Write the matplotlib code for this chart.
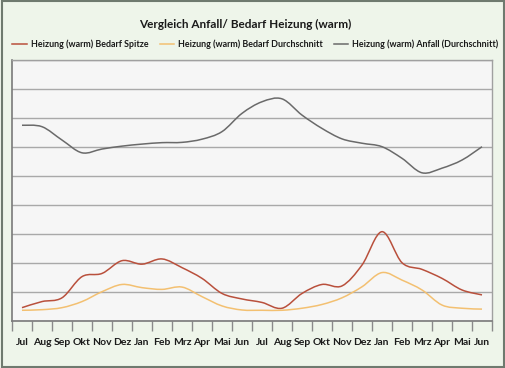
import matplotlib
matplotlib.use("Agg")
import matplotlib.pyplot as plt
from matplotlib.patches import Rectangle, PathPatch
from matplotlib.path import Path
from matplotlib.lines import Line2D
import numpy as np

# Monthly values over two years (Jul - Jun, Jul - Jun)
months = ["Jul", "Aug", "Sep", "Okt", "Nov", "Dez", "Jan", "Feb", "Mrz", "Apr", "Mai", "Jun",
          "Jul", "Aug", "Sep", "Okt", "Nov", "Dez", "Jan", "Feb", "Mrz", "Apr", "Mai", "Jun"]

bedarf_spitze = [0.46, 0.67, 0.80, 1.53, 1.64, 2.08, 1.96, 2.14, 1.84, 1.47, 0.95, 0.76,
                 0.64, 0.44, 0.95, 1.26, 1.21, 1.93, 3.08, 2.01, 1.78, 1.47, 1.07, 0.90]
bedarf_durchschnitt = [0.37, 0.39, 0.46, 0.67, 1.01, 1.26, 1.15, 1.09, 1.17, 0.84, 0.52, 0.38,
                       0.37, 0.37, 0.44, 0.57, 0.80, 1.18, 1.67, 1.41, 1.07, 0.55, 0.44, 0.41]
anfall_durchschnitt = [6.75, 6.70, 6.24, 5.80, 5.93, 6.03, 6.10, 6.15, 6.16, 6.27, 6.53, 7.16,
                       7.56, 7.66, 7.10, 6.64, 6.28, 6.13, 6.01, 5.61, 5.11, 5.27, 5.55, 6.01]

labels = ["Heizung (warm) Bedarf Spitze",
          "Heizung (warm) Bedarf Durchschnitt",
          "Heizung (warm) Anfall (Durchschnitt)"]
colors = ["#b9503c", "#f3c071", "#6a6a6a"]


# Smoothed line like the spreadsheet's "smoothed line" option: bezier path through the data points
def smooth_path(xs, ys):
    pts = np.column_stack([xs, ys]).astype(float)
    verts = [pts[0]]
    codes = [Path.MOVETO]
    n = len(pts)
    for i in range(n - 1):
        p0 = pts[max(i - 1, 0)]
        p1 = pts[i]
        p2 = pts[i + 1]
        p3 = pts[min(i + 2, n - 1)]
        verts += [p1 + (p2 - p0) / 6, p2 - (p3 - p1) / 6, p2]
        codes += [Path.CURVE4] * 3
    return Path(verts, codes)


plt.rcParams['font.family'] = ['Lato', 'DejaVu Sans']

fig = plt.figure(figsize=(5.06, 3.68), dpi=100)
fig.patch.set_facecolor("#eef5ea")
fig.patches.append(Rectangle((0.003, 0.004), 0.994, 0.992, transform=fig.transFigure,
                             fill=False, edgecolor="#6f7a6f", linewidth=1.5))

ax = fig.add_axes([12 / 506, 47 / 368, 480 / 506, 261 / 368])
ax.set_facecolor("#f6f6f6")

x = np.arange(len(months))
handles = []
for series, lab, col in zip([bedarf_spitze, bedarf_durchschnitt, anfall_durchschnitt], labels, colors):
    ax.add_patch(PathPatch(smooth_path(x, series), facecolor="none", edgecolor=col,
                           linewidth=1.1, zorder=3))
    handles.append(Line2D([], [], color=col, linewidth=1.1, label=lab))

ax.set_xlim(-0.5, len(months) - 0.5)
ax.set_ylim(0, 9)
ax.set_yticks(np.arange(0, 10, 1))
ax.yaxis.grid(True, color="#a9a9a9", linewidth=1)
ax.set_axisbelow(True)
ax.tick_params(axis="y", left=False, labelleft=False)

# tick marks between categories, labels centred on categories
ax.set_xticks(np.arange(-0.5, len(months), 1))
ax.set_xticklabels([])
ax.set_xticks(x, minor=True)
ax.set_xticklabels(months, minor=True, fontsize=7.5, fontweight="bold", color="#1a1a1a")
ax.tick_params(axis="x", which="major", length=7.5, color="#8a8a8a", width=1)
ax.tick_params(axis="x", which="minor", length=0, pad=12)

for side in ["left", "bottom"]:
    ax.spines[side].set_color("#7a7a7a")
    ax.spines[side].set_linewidth(1.2)
for side in ["top", "right"]:
    ax.spines[side].set_color("#a0a0a0")
    ax.spines[side].set_linewidth(1)

fig.text(0.485, 1 - 24 / 368, "Vergleich Anfall/ Bedarf Heizung (warm)", ha="center", va="center",
         fontsize=8.5, fontweight="bold", color="#1a1a1a")

leg = fig.legend(handles=handles, loc="center", bbox_to_anchor=(0.505, 1 - 44 / 368), ncol=3,
                 frameon=False, handlelength=1.6, handletextpad=0.45, columnspacing=1.3,
                 borderpad=0, borderaxespad=0,
                 prop={"weight": "bold", "size": 6.4})
for t in leg.get_texts():
    t.set_color("#1a1a1a")

fig.savefig("out.png", dpi=100, facecolor=fig.get_facecolor())
